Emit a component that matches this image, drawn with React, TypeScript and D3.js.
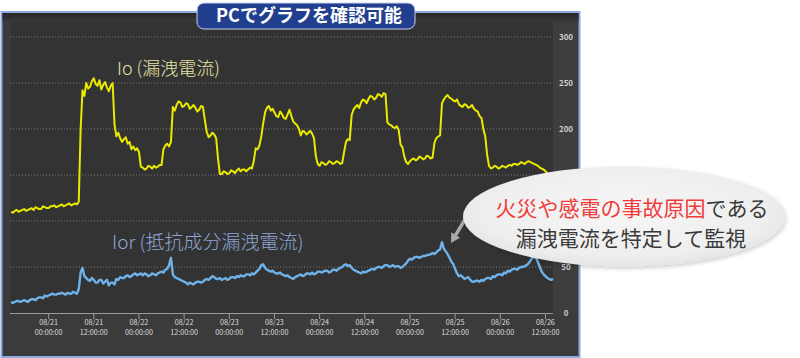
import React from "react";
import * as d3 from "d3";

// ---- data (samples every 30 minutes from 08/20 14:00) ----
const START = new Date(2019, 7, 20, 14, 0, 0);
const STEP_MIN = 30;
const IO_VALUES: number[] = [
  110, 109, 111, 112, 110, 111, 112, 113, 111, 112, 113, 114, 112, 115, 114, 113, 113, 116, 115, 114,
  114, 116, 116, 117, 115, 116, 117, 118, 116, 117, 118, 119, 117, 118, 119, 118, 121, 200, 242, 236,
  250, 244, 246, 252, 255, 249, 247, 253, 243, 248, 251, 245, 241, 247, 250, 205, 192, 196, 190, 186,
  189, 191, 184, 186, 178, 181, 177, 179, 175, 159, 158, 156, 157, 160, 159, 157, 160, 158, 159, 161,
  161, 178, 182, 184, 181, 186, 224, 220, 226, 230, 229, 224, 225, 228, 227, 222, 224, 226, 223, 219,
  221, 225, 224, 210, 197, 191, 193, 196, 194, 190, 168, 151, 151, 154, 153, 151, 152, 155, 154, 152,
  155, 157, 154, 156, 156, 154, 156, 158, 157, 165, 179, 178, 182, 192, 206, 218, 223, 225, 220, 222,
  218, 214, 213, 219, 216, 212, 211, 216, 221, 214, 208, 206, 204, 200, 193, 198, 197, 194, 196, 198,
  195, 190, 170, 162, 160, 164, 163, 161, 162, 165, 164, 162, 163, 165, 164, 162, 163, 175, 186, 189,
  188, 215, 221, 224, 226, 223, 229, 232, 231, 228, 233, 236, 235, 232, 234, 238, 237, 235, 239, 238,
  207, 205, 204, 202, 201, 203, 199, 183, 180, 170, 164, 162, 165, 167, 168, 166, 167, 170, 169, 167,
  168, 171, 170, 168, 169, 185, 190, 192, 193, 228, 232, 235, 237, 234, 233, 231, 230, 232, 227, 225,
  224, 227, 226, 223, 224, 226, 222, 220, 219, 214, 212, 200, 192, 172, 160, 157, 158, 160, 159, 157,
  158, 160, 159, 158, 160, 161, 160, 162, 162, 161, 162, 164, 163, 162, 164, 165, 164, 163, 162, 161,
  160, 158, 157, 156, 154, 152, 150, 149, 147,
];
const IOR_VALUES: number[] = [
  12, 11, 12, 13, 13, 12, 13, 14, 13, 12, 14, 15, 15, 14, 16, 17, 17, 16, 19, 18,
  19, 20, 21, 20, 20, 21, 21, 22, 21, 20, 22, 21, 21, 23, 22, 21, 26, 44, 49, 40,
  38, 36, 35, 38, 36, 33, 33, 36, 36, 32, 34, 36, 30, 33, 33, 31, 37, 36, 39, 38,
  38, 40, 41, 39, 40, 42, 43, 41, 42, 43, 41, 43, 42, 40, 41, 43, 42, 41, 43, 44,
  45, 44, 47, 48, 52, 60, 42, 39, 38, 37, 36, 35, 34, 33, 31, 33, 32, 31, 33, 34,
  34, 33, 34, 36, 37, 36, 38, 40, 39, 37, 37, 38, 36, 37, 38, 36, 37, 39, 39, 38,
  40, 39, 41, 40, 40, 42, 42, 41, 43, 42, 44, 46, 48, 52, 53, 49, 47, 46, 45, 46,
  44, 43, 43, 44, 42, 41, 40, 41, 39, 38, 37, 39, 40, 41, 42, 40, 41, 43, 43, 42,
  44, 42, 43, 45, 45, 44, 45, 46, 46, 44, 45, 47, 47, 46, 48, 49, 50, 52, 53, 51,
  52, 49, 47, 46, 45, 44, 43, 45, 44, 45, 46, 47, 48, 47, 49, 50, 50, 49, 51, 52,
  52, 50, 51, 52, 50, 51, 51, 49, 50, 52, 54, 57, 59, 58, 60, 61, 61, 60, 61, 62,
  62, 63, 63, 64, 65, 64, 66, 68, 69, 77, 70, 67, 64, 60, 56, 53, 48, 43, 40, 41,
  39, 37, 38, 39, 36, 34, 34, 35, 35, 34, 36, 35, 37, 38, 38, 37, 40, 39, 41, 42,
  42, 41, 44, 43, 46, 45, 47, 48, 48, 47, 49, 50, 50, 51, 52, 54, 57, 60, 61, 60,
  55, 50, 45, 42, 40, 38, 37, 36, 37,
];
const Y_GRID = [50, 100, 150, 200, 250, 300];
// right-axis labels visible in the reference (100 and 150 sit under the callout)
const Y_LABELS = [0, 50, 200, 250, 300];
const TITLE = "PCでグラフを確認可能";
const IO_LABEL = "Io (漏洩電流)";
const IOR_LABEL = "Ior (抵抗成分漏洩電流)";
const CALLOUT_RED = "火災や感電の事故原因";
const CALLOUT_REST = "である";
const CALLOUT_LINE2 = "漏洩電流を特定して監視";

const timeAt = (i: number) => new Date(START.getTime() + i * STEP_MIN * 60000);

export default function App() {
  const W = 800;
  const H = 358;
  const plotL = 10;
  const plotR = 553;
  const plotT = 22;
  const plotB = 313;

  const x = d3
    .scaleTime()
    .domain([START, timeAt(IO_VALUES.length - 1)])
    .range([11, 553]);
  const y = d3.scaleLinear().domain([0, 300]).range([313, 37]);

  const line = d3
    .line<number>()
    .x((_, i) => x(timeAt(i)))
    .y((d) => y(d));

  const xTicks = x.ticks(d3.timeHour.every(12) as any).filter(
    (t) => t.getHours() === 0 || t.getHours() === 12
  );
  const fmtDate = d3.timeFormat("%m/%d");
  const fmtTime = d3.timeFormat("%H:%M:%S");

  const font = "'Noto Sans CJK JP', 'Noto Sans', sans-serif";

  return (
    <svg
      width={W}
      height={H}
      style={{ position: "absolute", left: 0, top: 0, background: "#ffffff" }}
      fontFamily={font}
    >
      <defs>
        <linearGradient id="topStrip" x1="0" y1="0" x2="0" y2="1">
          <stop offset="0" stopColor="#262626" />
          <stop offset="1" stopColor="#3a3a3a" />
        </linearGradient>
        <radialGradient id="bubble" cx="0.5" cy="0.45" r="0.6">
          <stop offset="0" stopColor="#f6f6f6" />
          <stop offset="0.75" stopColor="#eeeeee" />
          <stop offset="1" stopColor="#e0e0e0" />
        </radialGradient>
        <filter id="shadow" x="-10%" y="-20%" width="120%" height="140%">
          <feGaussianBlur in="SourceAlpha" stdDeviation="2" />
          <feOffset dx="1" dy="2" result="b" />
          <feComponentTransfer>
            <feFuncA type="linear" slope="0.2" />
          </feComponentTransfer>
          <feMerge>
            <feMergeNode />
            <feMergeNode in="SourceGraphic" />
          </feMerge>
        </filter>
      </defs>

      {/* frame */}
      <rect x={1.5} y={12} width={578} height={345} fill="#3b3b3b" stroke="#8faadc" strokeWidth={2} />
      <rect x={2.5} y={13} width={576} height={9} fill="url(#topStrip)" />
      <rect x={plotL} y={plotT} width={plotR - plotL} height={plotB - plotT} fill="#333333" />
      <rect x={plotR} y={plotT} width={578 - plotR} height={plotB - plotT} fill="#3e3e3e" />

      {/* grid */}
      {Y_GRID.map((t) => (
        <line
          key={t}
          x1={plotL}
          x2={plotR}
          y1={y(t)}
          y2={y(t)}
          stroke="#7a7a7a"
          strokeWidth={1}
          strokeDasharray="1 2"
        />
      ))}

      {/* y axis labels (right) */}
      {Y_LABELS.map((t) => (
        <text
          key={t}
          x={566}
          y={y(t)}
          dy="0.35em"
          textAnchor="middle"
          fontSize={8}
          fill="#cfcfcf"
          fontWeight={600}
        >
          {t}
        </text>
      ))}

      {/* x axis */}
      <line x1={plotL} x2={plotR} y1={313.5} y2={313.5} stroke="#9a9a9a" strokeWidth={1} />
      {xTicks.map((t, i) => (
        <g key={i} transform={`translate(${x(t)},0)`}>
          <line y1={313} y2={319} stroke="#9a9a9a" strokeWidth={1} />
          <text y={325} textAnchor="middle" fontSize={7.2} fill="#dcdcdc">
            {fmtDate(t)}
          </text>
          <text y={334.5} textAnchor="middle" fontSize={7.2} fill="#dcdcdc">
            {fmtTime(t)}
          </text>
        </g>
      ))}

      {/* series */}
      <path d={line(IO_VALUES) || ""} fill="none" stroke="#eaea00" strokeWidth={2} strokeLinejoin="round" />
      <path d={line(IOR_VALUES) || ""} fill="none" stroke="#6fb2ea" strokeWidth={2.4} strokeLinejoin="round" />

      {/* series labels */}
      <text x={117} y={75} fontSize={18} fill="#e6e4a4" fontWeight={300}>
        {IO_LABEL}
      </text>
      <text x={112} y={249} fontSize={19} fill="#8ea6d6" fontWeight={300}>
        {IOR_LABEL}
      </text>

      {/* title banner */}
      <rect x={197} y={3} width={218} height={26} rx={7} fill="#213f8e" stroke="#c9d3ea" strokeWidth={1} />
      <text x={309} y={22} textAnchor="middle" fontSize={18} fontWeight={700} fill="#ffffff">
        {TITLE}
      </text>

      {/* callout arrow */}
      <line x1={470} y1={211} x2={455.6} y2={235.2} stroke="#a9a9a9" strokeWidth={3.5} />
      <polygon points="451,243 460,237.7 451.3,232.2" fill="#a9a9a9" />

      {/* callout bubble */}
      <ellipse cx={624} cy={216.5} rx={161} ry={50} fill="url(#bubble)" filter="url(#shadow)" />
      <text x={632} y={216} textAnchor="middle" fontSize={21} fill="#3a3a3a">
        <tspan fill="#f03c3c">{CALLOUT_RED}</tspan>
        <tspan>{CALLOUT_REST}</tspan>
      </text>
      <text x={631} y={246} textAnchor="middle" fontSize={21} fill="#3a3a3a">
        {CALLOUT_LINE2}
      </text>
    </svg>
  );
}
